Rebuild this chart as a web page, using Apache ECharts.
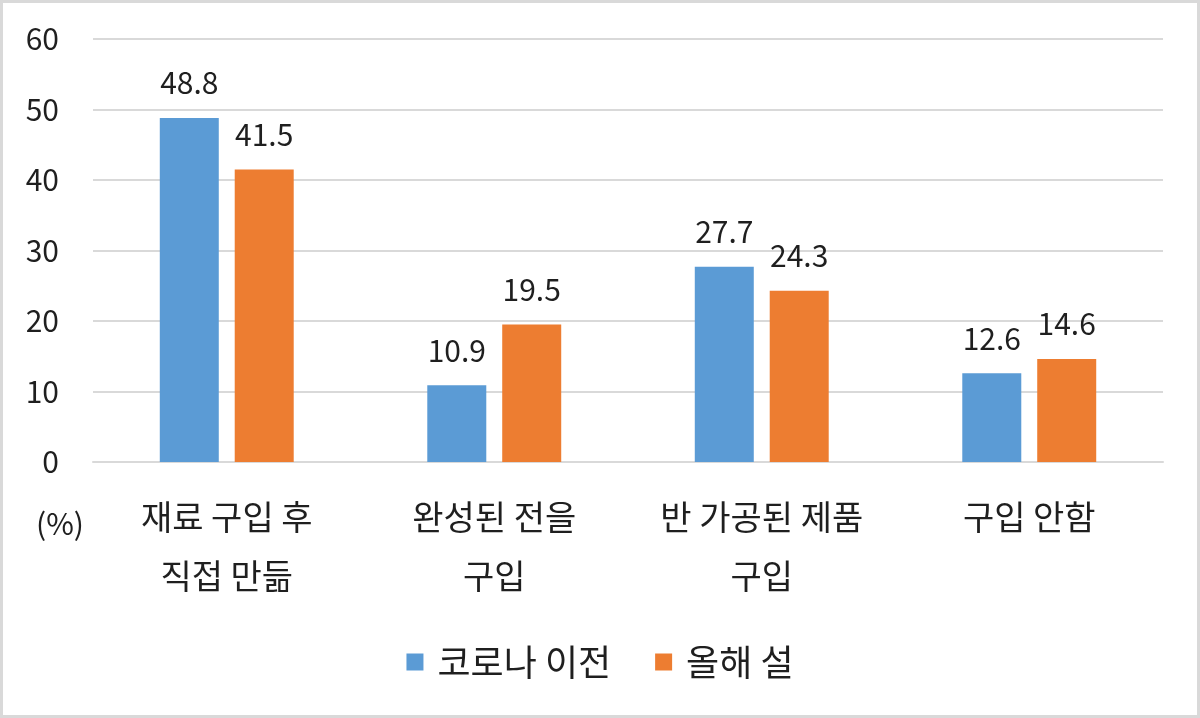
<!DOCTYPE html>
<html>
<head>
<meta charset="utf-8">
<script src="https://cdn.jsdelivr.net/npm/echarts@6/dist/echarts.min.js"></script>
<style>
  html, body { margin: 0; padding: 0; background: #fff; }
  #wrap { width: 1200px; height: 718px; box-sizing: border-box; border: 3px solid #d9d9d9; }
  #chart { width: 1194px; height: 712px; }
</style>
</head>
<body>
<div id="wrap"><div id="chart"></div></div>
<script>
const categories = ['재료 구입 후\n직접 만듦', '완성된 전을\n구입', '반 가공된 제품\n구입', '구입 안함'];
const beforeCovid = [48.8, 10.9, 27.7, 12.6];
const thisYear = [41.5, 19.5, 24.3, 14.6];
const seriesNames = ['코로나 이전', '올해 설'];

const COLORS = {
    blue: '#5b9bd5',
    orange: '#ed7d31',
    grid: '#d9d9d9',
    text: '#1f1f1f',
};
const FONT = '"Noto Sans CJK KR", "Liberation Sans", sans-serif';

const chart = echarts.init(document.getElementById('chart'), null, { renderer: 'canvas' });

const labelStyle = { show: true, position: 'top', distance: 20, color: COLORS.text, fontSize: 30, fontFamily: FONT };

chart.setOption({
    backgroundColor: '#fff',
    animation: false,
    textStyle: { fontFamily: FONT, color: COLORS.text },
    grid: { left: 90, right: 34, top: 36, bottom: 253 },
    legend: {
        data: seriesNames,
        bottom: 30,
        left: 'center',
        icon: 'rect',
        itemWidth: 17,
        itemHeight: 17,
        itemGap: 44,
        textStyle: { color: COLORS.text, fontSize: 36, fontFamily: FONT, padding: [0, 0, 0, 9] },
    },
    graphic: [
        { type: 'text', left: 33, top: 506, style: { text: '(%)', fontSize: 30, fill: COLORS.text, fontFamily: FONT } },
    ],
    xAxis: {
        type: 'category',
        data: categories,
        axisLine: { lineStyle: { color: COLORS.grid, width: 2 } },
        axisTick: { show: false },
        axisLabel: { color: COLORS.text, fontSize: 34, lineHeight: 59, margin: 26, fontFamily: FONT, interval: 0 },
    },
    yAxis: {
        type: 'value',
        min: 0, max: 60, interval: 10,
        axisLine: { show: false },
        axisTick: { show: false },
        splitLine: { lineStyle: { color: COLORS.grid, width: 2 } },
        axisLabel: { color: COLORS.text, fontSize: 30, margin: 34, fontFamily: FONT },
    },
    series: [
        { name: seriesNames[0], type: 'bar', data: beforeCovid, barWidth: 59, barGap: '27%', itemStyle: { color: COLORS.blue }, label: labelStyle },
        { name: seriesNames[1], type: 'bar', data: thisYear, barWidth: 59, barGap: '27%', itemStyle: { color: COLORS.orange }, label: labelStyle },
    ],
});
</script>
</body>
</html>
